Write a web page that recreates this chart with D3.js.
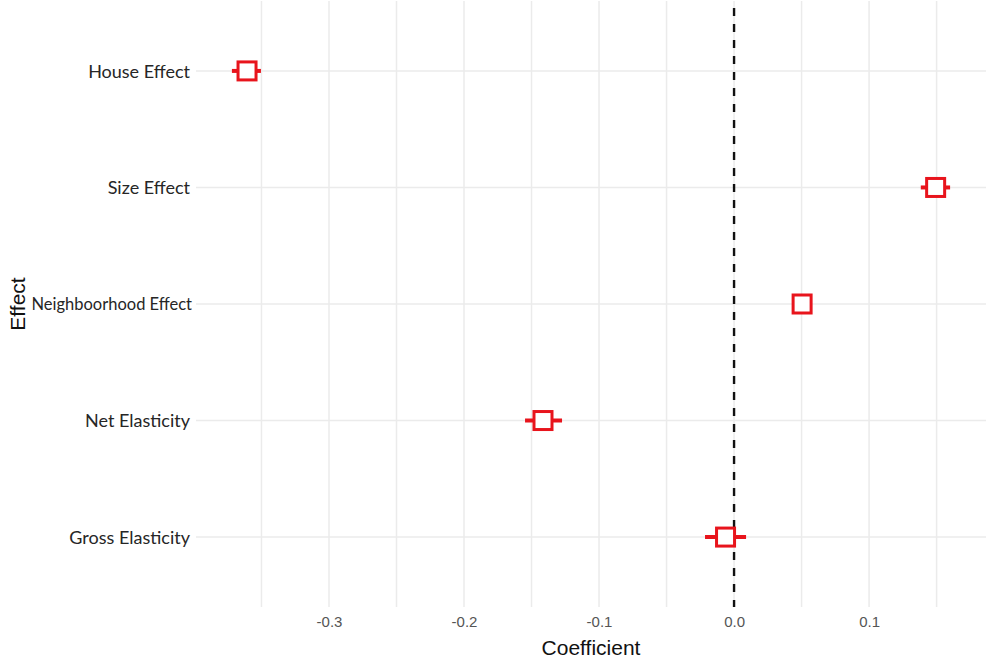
<!DOCTYPE html>
<html>
<head>
<meta charset="utf-8">
<script src="https://cdn.jsdelivr.net/npm/d3@7/dist/d3.min.js"></script>
<style>
html,body{margin:0;padding:0;background:#fff;}
svg{display:block;}
</style>
</head>
<body>
<svg id="chart" width="990" height="662"></svg>
<script>
const categories = ["House Effect","Size Effect","Neighboorhood Effect","Net Elasticity","Gross Elasticity"];
const estimates  = [-0.3607, 0.1493, 0.0504, -0.1415, -0.0063];
const lowerCI    = [-0.3719, 0.1383, 0.0440, -0.1548, -0.0215];
const upperCI    = [-0.3504, 0.1600, 0.0570, -0.1274, 0.0089];
const xTicks     = [-0.3, -0.2, -0.1, 0.0, 0.1];
const xGrid      = [-0.35, -0.3, -0.25, -0.2, -0.15, -0.1, -0.05, 0.0, 0.05, 0.1, 0.15];
const refValue   = 0;

const data = categories.map((c,i)=>({cat:c, est:estimates[i], lo:lowerCI[i], hi:upperCI[i]}));

const svg = d3.select("#chart");
const panel = {left:196, right:986, top:1, bottom:607};

const lo = d3.min(lowerCI), hi = d3.max(upperCI);
const pad = (hi-lo)*0.05;
const x = d3.scaleLinear().domain([lo-pad, hi+pad]).range([panel.left, panel.right]);
const y = d3.scalePoint().domain(categories).range([panel.top, panel.bottom]).padding(0.6);

// gridlines
svg.append("g").selectAll("line").data(xGrid).join("line")
  .attr("x1",d=>x(d)).attr("x2",d=>x(d))
  .attr("y1",panel.top).attr("y2",panel.bottom)
  .attr("stroke","#ebebeb").attr("stroke-width",1.5);
svg.append("g").selectAll("line").data(categories).join("line")
  .attr("x1",panel.left).attr("x2",panel.right)
  .attr("y1",d=>y(d)).attr("y2",d=>y(d))
  .attr("stroke","#ebebeb").attr("stroke-width",1.5);

// reference line
svg.append("line")
  .attr("x1",x(refValue)).attr("x2",x(refValue))
  .attr("y1",8).attr("y2",panel.bottom)
  .attr("stroke","#111").attr("stroke-width",2.4)
  .attr("stroke-dasharray","8,8");

// error bars
svg.append("g").selectAll("line").data(data).join("line")
  .attr("x1",d=>x(d.lo)).attr("x2",d=>x(d.hi))
  .attr("y1",d=>y(d.cat)).attr("y2",d=>y(d.cat))
  .attr("stroke","#e8141c").attr("stroke-width",4);

// squares
const s = 18;
svg.append("g").selectAll("rect").data(data).join("rect")
  .attr("x",d=>x(d.est)-s/2).attr("y",d=>y(d.cat)-s/2)
  .attr("width",s).attr("height",s)
  .attr("fill","#fff").attr("stroke","#e8141c").attr("stroke-width",3);

// x axis
const fmt = d3.format(".1f");
const xAxis = d3.axisBottom(x).tickValues(xTicks).tickSize(0).tickFormat(d=>fmt(d).replace("\u2212","-"));
const gx = svg.append("g").attr("transform",`translate(0,${panel.bottom+4})`).call(xAxis);
gx.select(".domain").remove();
gx.selectAll("text").attr("font-family","Liberation Sans, Arial, sans-serif")
  .attr("font-size",15).attr("fill","#555").attr("dy","0.71em").attr("y",5);

// y axis
const yAxis = d3.axisLeft(y).tickSize(0);
const gy = svg.append("g").attr("transform",`translate(${panel.left-4},0)`).call(yAxis);
gy.select(".domain").remove();
gy.selectAll("text").attr("font-family","Lato, sans-serif")
  .attr("font-size",d=>d==="Neighboorhood Effect"?16.5:18)
  .attr("fill","#262626").attr("x",d=>d==="Neighboorhood Effect"?0:-2).attr("dy","0.35em");

// titles
svg.append("text").attr("x",(panel.left+panel.right)/2).attr("y",655)
  .attr("text-anchor","middle").attr("font-family","Liberation Sans, Arial, sans-serif")
  .attr("font-size",21).attr("fill","#111").text("Coefficient");
svg.append("text").attr("transform",`translate(25,${(panel.top+panel.bottom)/2}) rotate(-90)`)
  .attr("text-anchor","middle").attr("font-family","Liberation Sans, Arial, sans-serif")
  .attr("font-size",21).attr("fill","#111").text("Effect");
</script>
</body>
</html>
